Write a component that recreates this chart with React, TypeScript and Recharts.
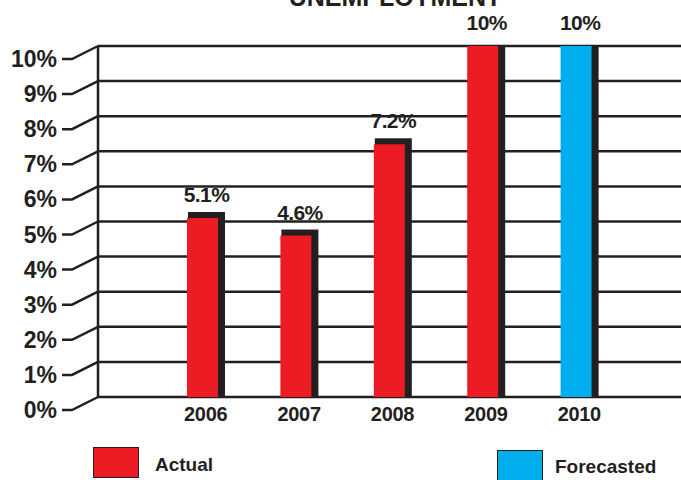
import { BarChart, Bar, XAxis, YAxis, CartesianGrid, LabelList, Legend, Cell, Customized } from "recharts";

const YEARS = ["2006", "2007", "2008", "2009", "2010"];
const RATES = [5.1, 4.6, 7.2, 10, 10];
const KINDS = ["Actual", "Actual", "Actual", "Actual", "Forecasted"];
const Y_TICKS = [0, 1, 2, 3, 4, 5, 6, 7, 8, 9, 10];
const LEGEND_ITEMS = ["Actual", "Forecasted"];

const COLORS: Record<string, string> = {
  Actual: "#ed1c24",
  Forecasted: "#00aeef",
};

const INK = "#231f20";
const FONT = '"Liberation Sans", Arial, Helvetica, sans-serif';
const PLOT_TOP = 46;
const PLOT_LEFT = 98;
const PLOT_BOTTOM = 397;

// legend box placement, relative to the legend wrapper
const LEGEND_POS = [
  { box: 93, boxTop: 2, text: 155, textMid: 20 },
  { box: 497, boxTop: 5, text: 555, textMid: 22 },
];

const data = YEARS.map((year, i) => ({ year, rate: RATES[i], kind: KINDS[i] }));

function ShadowBar(props: any) {
  const { x, y, width, height, fill } = props;
  if (!height || height <= 0) return null;
  const bottom = y + height;
  const shadowTop = Math.max(y - 6, PLOT_TOP);
  return (
    <g>
      <rect x={x + 1} y={shadowTop} width={width + 6} height={bottom - shadowTop} fill={INK} />
      <rect x={x} y={y} width={width} height={height} fill={fill} />
    </g>
  );
}

function YTick(props: any) {
  const { y, payload } = props;
  const ly = y + 13;
  return (
    <g>
      <path d={`M62,${ly} L72,${ly} L${PLOT_LEFT},${y}`} stroke={INK} strokeWidth={2.5} fill="none" />
      <text x={57} y={ly + 8} textAnchor="end" fontFamily={FONT} fontWeight="bold" fontSize={23} fill={INK}>
        {payload.value}%
      </text>
    </g>
  );
}

function XTick(props: any) {
  const { x, payload } = props;
  return (
    <text x={x + 3} y={PLOT_BOTTOM + 24} textAnchor="middle" fontFamily={FONT} fontWeight="bold" fontSize={20} letterSpacing={-0.3} fill={INK}>
      {payload.value}
    </text>
  );
}

function ValueLabel(props: any) {
  const { x, y, width, value } = props;
  return (
    <text x={x + width / 2 + 4} y={y - 16} textAnchor="middle" fontFamily={FONT} fontWeight="bold" fontSize={21} letterSpacing={-0.6} fill={INK}>
      {value}%
    </text>
  );
}

function LegendContent() {
  return (
    <div style={{ position: "relative", width: 681, height: 35, fontFamily: FONT }}>
      {LEGEND_ITEMS.map((name, i) => (
        <div key={name}>
          <div
            style={{
              position: "absolute",
              left: LEGEND_POS[i].box,
              top: LEGEND_POS[i].boxTop,
              width: 44,
              height: 29,
              background: COLORS[name],
              border: `1.5px solid ${INK}`,
            }}
          />
          <div
            style={{
              position: "absolute",
              left: LEGEND_POS[i].text,
              top: LEGEND_POS[i].textMid - 12,
              lineHeight: "24px",
              fontSize: 19,
              fontWeight: "bold",
              color: INK,
              whiteSpace: "nowrap",
            }}
          >
            {name}
          </div>
        </div>
      ))}
    </div>
  );
}

export default function App() {
  return (
    <div style={{ position: "absolute", left: 0, top: 0, width: 681, height: 480, overflow: "hidden", background: "#fff" }}>
      <BarChart width={681} height={480} data={data} margin={{ top: PLOT_TOP, right: 0, bottom: 0, left: 0 }}>
        <CartesianGrid vertical={false} stroke={INK} strokeWidth={2.5} strokeOpacity={1} />
        <XAxis
          dataKey="year"
          height={480 - PLOT_BOTTOM}
          axisLine={false}
          tickLine={false}
          tick={<XTick />}
          padding={{ left: 58, right: 58 }}
          interval={0}
        />
        <YAxis
          width={PLOT_LEFT}
          domain={[0, 10]}
          ticks={Y_TICKS}
          interval={0}
          axisLine={{ stroke: INK, strokeWidth: 2.5 }}
          tickLine={false}
          tick={<YTick />}
        />
        <Bar dataKey="rate" barSize={31} shape={<ShadowBar />} isAnimationActive={false}>
          {data.map((d) => (
            <Cell key={d.year} fill={COLORS[d.kind]} />
          ))}
          <LabelList dataKey="rate" content={<ValueLabel />} />
        </Bar>
        <Legend
          layout="horizontal"
          verticalAlign="middle"
          align="center"
          wrapperStyle={{ top: 445, left: 0, width: 681, height: 35 }}
          content={<LegendContent />}
        />
        <Customized
          component={() => (
            <text x={395} y={6} textAnchor="middle" fontFamily={FONT} fontWeight="bold" fontSize={25} fill={INK}>
              UNEMPLOYMENT
            </text>
          )}
        />
      </BarChart>
    </div>
  );
}
